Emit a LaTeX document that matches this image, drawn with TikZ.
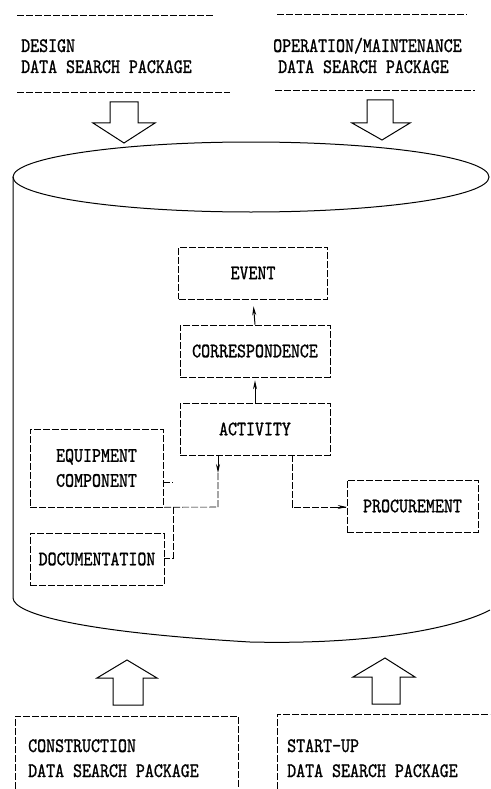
\documentclass[tikz,border=0pt]{standalone}
\usepackage{fontspec}
\setmonofont{lmmono10-regular.otf}[BoldFont=lmmono10-regular.otf, BoldFeatures={FakeBold=1.2}]
\usetikzlibrary{arrows.meta}
\newcommand{\cnd}[1]{\scalebox{0.95}[1.14]{#1}}
\tikzset{
  txt/.style={font=\ttfamily\bfseries\fontsize{18}{20}\selectfont, inner sep=0pt, anchor=base west},
  boxed/.style={draw, line width=0.6pt, dash pattern=on 7pt off 2pt, font=\ttfamily\bfseries\fontsize{18}{20}\selectfont, inner sep=0pt, align=center},
  rule/.style={line width=0.6pt, dash pattern=on 7pt off 2pt},
  blockarrow/.style={draw, line width=1pt, line join=miter},
  conn/.style={line width=0.6pt, dash pattern=on 7pt off 2pt},
  tip/.style={-{Stealth[length=9pt,width=4pt]}, line width=1pt}
}
\begin{document}
\begin{tikzpicture}[x=1pt,y=-1pt]
\useasboundingbox (0,0) rectangle (490,789);

% top packages
\draw[rule] (17,15) -- (213,15);
\draw[rule] (17,92) -- (230,92);
\node[txt] (design1) at (21,52) {\cnd{DESIGN}};
\node[txt] (design2) at (21,73) {\cnd{DATA SEARCH PACKAGE}};
\draw[rule] (277,14) -- (467,14);
\draw[rule] (275,90) -- (475,90);
\node[txt] (oper1) at (273,52) {\cnd{OPERATION/MAINTENANCE}};
\node[txt] (oper2) at (278,73) {\cnd{DATA SEARCH PACKAGE}};

% down block arrows
\draw[blockarrow] (110,102) -- (138,102) -- (138,123) -- (155,123) -- (124,143) -- (93,123) -- (110,123) -- cycle;
\draw[blockarrow] (367,100) -- (393,100) -- (393,123) -- (410,123) -- (382,140) -- (352,123) -- (367,123) -- cycle;

% cylinder
\draw[line width=1pt] (251,177) ellipse [x radius=238, y radius=35];
\draw[line width=1pt] (13,177) -- (13,598) .. controls (14,614) and (80,632) .. (250,642) .. controls (380,645) and (460,626) .. (490,610);

% inner boxes
\node[boxed, minimum width=149, minimum height=52] (event) at (253,273) {\cnd{EVENT}};
\node[boxed, minimum width=150, minimum height=52] (corr) at (255,351) {\cnd{CORRESPONDENCE}};
\node[boxed, minimum width=150, minimum height=52] (act) at (255,429) {\cnd{ACTIVITY}};
\node[boxed, minimum width=133, minimum height=78] (equip) at (96.5,468) {\cnd{EQUIPMENT}\\[5pt]\cnd{COMPONENT}};
\node[boxed, minimum width=134, minimum height=52] (doc) at (97,559) {\cnd{DOCUMENTATION}};
\node[boxed, minimum width=131, minimum height=52] (proc) at (412.5,506) {\cnd{PROCUREMENT}};

% connectors
\draw[tip, shorten >=7pt] (corr.north) -- (event.south);
\draw[tip, shorten >=3pt] (act.north) -- (corr.south);
\coordinate (a1) at (218,473);
\coordinate (a2) at (218,507);
\coordinate (j1) at (173,507);
\coordinate (j2) at (173,558);
\coordinate (s1) at (173,482);
\draw[tip] (act.south -| a1) -- (a1);
\draw[conn] (a1) -- (a2) -- (equip.south east);
\draw[conn] (j1) -- (j2) -- (doc.east |- j2);
\draw[conn] (equip.east |- s1) -- (s1);
\coordinate (p1) at (292,507);
\draw[conn] (act.south -| p1) -- (p1) -- (proc.west |- p1);
\draw[tip] (330,507) -- (proc.west |- p1);

% up block arrows
\draw[blockarrow] (113,705) -- (113,678) -- (97,678) -- (127,660) -- (157,678) -- (143,678) -- (143,705) -- cycle;
\draw[blockarrow] (372,704) -- (372,677) -- (353,677) -- (385,658) -- (415,677) -- (400,677) -- (400,704) -- cycle;

% bottom packages
\draw[rule] (15,789) -- (15,716) -- (238,716) -- (238,789);
\node[txt] (cons1) at (28,752) {\cnd{CONSTRUCTION}};
\node[txt] (cons2) at (28,777) {\cnd{DATA SEARCH PACKAGE}};
\draw[rule] (277,789) -- (277,714) -- (490,714);
\node[txt] (start1) at (287,752) {\cnd{START-UP}};
\node[txt] (start2) at (287,777) {\cnd{DATA SEARCH PACKAGE}};
\end{tikzpicture}
\end{document}
